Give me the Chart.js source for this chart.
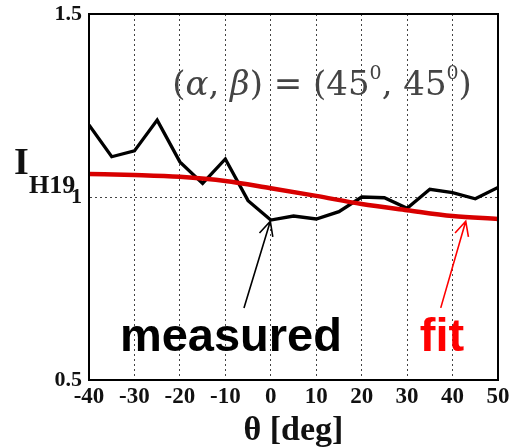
<!DOCTYPE html>
<html>
<head>
<meta charset="utf-8">
<script src="https://cdn.jsdelivr.net/npm/chart.js@4"></script>
<style>
  html, body { margin: 0; padding: 0; background: #fff; }
  #wrap { width: 510px; height: 448px; }
</style>
</head>
<body>
<div id="wrap"><canvas id="c" width="510" height="448"></canvas></div>
<script>
// measured intensity, every 5 deg
const thetaMeasured = [-40, -35, -30, -25, -20, -15, -10, -5, 0, 5, 10, 15, 20, 25, 30, 35, 40, 45, 50];
const iMeasured = [1.197, 1.110, 1.126, 1.210, 1.096, 1.037, 1.104, 0.990, 0.937, 0.948, 0.940, 0.960, 1.000, 0.998, 0.969, 1.021, 1.012, 0.995, 1.026];
// fitted curve
const thetaFit = [-40, -30, -20, -10, 0, 10, 20, 30, 40, 50];
const iFit = [1.063, 1.060, 1.055, 1.044, 1.024, 1.003, 0.981, 0.964, 0.948, 0.940];
const yTicks = [0.5, 1, 1.5];

const SERIF = '"Liberation Serif", "Times New Roman", serif';
const MATH = '"DejaVu Serif", "Liberation Serif", serif';
const SANS = '"Liberation Sans", Arial, sans-serif';

function pts(xs, ys) {
    return xs.map((x, i) => ({x: x, y: ys[i]}));
}

// draws text runs one after the other
function drawRuns(ctx, x, y, runs) {
    runs.forEach((r) => {
        ctx.font = r.font;
        ctx.fillText(r.text, x, y + (r.dy || 0));
        x += ctx.measureText(r.text).width;
    });
}

function arrow(ctx, x0, y0, x1, y1, color) {
    let ang = Math.atan2(y1 - y0, x1 - x0);
    let len = 16;
    ctx.strokeStyle = color;
    ctx.lineWidth = 1.6;
    ctx.beginPath();
    ctx.moveTo(x0, y0);
    ctx.lineTo(x1, y1);
    ctx.moveTo(x1 - len * Math.cos(ang - 0.45), y1 - len * Math.sin(ang - 0.45));
    ctx.lineTo(x1, y1);
    ctx.lineTo(x1 - len * Math.cos(ang + 0.45), y1 - len * Math.sin(ang + 0.45));
    ctx.stroke();
}

//Label overhang must not shrink the plot, the layout padding decides.
function noOverhang(s) {
    s.paddingTop = 0;
    s.paddingBottom = 0;
    s.paddingLeft = 0;
    s.paddingRight = 0;
}

const extras = {
    id: 'extras',
    afterDraw(chart) {
        const ctx = chart.ctx;
        const a = chart.chartArea;
        const xs = chart.scales.x;
        const ys = chart.scales.y;
        ctx.save();

        // box round the plot
        ctx.strokeStyle = '#000';
        ctx.lineWidth = 2;
        ctx.strokeRect(a.left, a.top, a.right - a.left, a.bottom - a.top);

        // parameter label
        ctx.fillStyle = '#444';
        ctx.textBaseline = 'alphabetic';
        const reg = '34px ' + MATH;
        const ita = 'italic 34px ' + MATH;
        const sup = '19px ' + MATH;
        drawRuns(ctx, xs.getPixelForValue(-21.7), ys.getPixelForValue(1.279), [
            {text: '(', font: reg},
            {text: 'α', font: ita},
            {text: ', ', font: reg},
            {text: 'β', font: ita},
            {text: ') = (45', font: reg},
            {text: '0', font: sup, dy: -16},
            {text: ', 45', font: reg},
            {text: '0', font: sup, dy: -16},
            {text: ')', font: reg}
        ]);

        // y axis label I_H19
        ctx.fillStyle = '#111';
        ctx.font = 'bold 38px ' + SERIF;
        ctx.fillText('I', 14, 174);
        ctx.font = 'bold 26px ' + SERIF;
        ctx.fillText('H19', 29, 193);

        // arrows
        arrow(ctx, xs.getPixelForValue(-5.9), ys.getPixelForValue(0.697),
            xs.getPixelForValue(-0.1), ys.getPixelForValue(0.934), '#000');
        arrow(ctx, xs.getPixelForValue(37.4), ys.getPixelForValue(0.697),
            xs.getPixelForValue(42.9), ys.getPixelForValue(0.934), '#ff0000');

        // labels
        ctx.font = 'bold 47px ' + SANS;
        ctx.fillStyle = '#000';
        ctx.fillText('measured', xs.getPixelForValue(-33.2), ys.getPixelForValue(0.58));
        ctx.fillStyle = '#ff0000';
        ctx.fillText('fit', xs.getPixelForValue(32.8), ys.getPixelForValue(0.58));
        ctx.restore();
    }
};

new Chart(document.getElementById('c'), {
    type: 'line',
    data: {
        datasets: [
            {
                label: 'fit',
                data: pts(thetaFit, iFit),
                borderColor: '#d80000',
                borderWidth: 4.5,
                pointRadius: 0,
                cubicInterpolationMode: 'monotone'
            },
            {
                label: 'measured',
                data: pts(thetaMeasured, iMeasured),
                borderColor: '#000',
                borderWidth: 3.3,
                pointRadius: 0,
                tension: 0
            }
        ]
    },
    options: {
        responsive: false,
        animation: false,
        layout: {padding: {left: 0, right: 12, top: 14, bottom: 0}},
        plugins: {legend: {display: false}, tooltip: {enabled: false}},
        scales: {
            x: {
                type: 'linear',
                min: -40,
                max: 50,
                afterFit: (s) => { s.height = 68; noOverhang(s); },
                ticks: {
                    stepSize: 10,
                    padding: 3,
                    color: '#111',
                    font: {family: SERIF, size: 23, weight: 'bold'}
                },
                grid: {
                    drawTicks: false,
                    color: (c) => (c.tick && (c.tick.value === -40 || c.tick.value === 50)) ? 'transparent' : '#444',
                    lineWidth: 1
                },
                border: {display: true, color: '#000', width: 2, dash: [2, 3]},
                title: {
                    display: true,
                    text: 'θ [deg]',
                    color: '#111',
                    font: {family: SERIF, size: 34, weight: 'bold', lineHeight: 1},
                    padding: {top: 0, bottom: 0}
                }
            },
            y: {
                min: 0.5,
                max: 1.5,
                afterFit: (s) => { s.width = 89; noOverhang(s); },
                afterBuildTicks: (s) => { s.ticks = yTicks.map((v) => ({value: v})); },
                ticks: {
                    padding: 7,
                    color: '#111',
                    font: {family: SERIF, size: 22, weight: 'bold'},
                    callback: (v) => String(v)
                },
                grid: {
                    drawTicks: false,
                    color: (c) => (c.tick && c.tick.value === 1) ? '#444' : 'transparent',
                    lineWidth: 1
                },
                border: {display: true, color: '#000', width: 2, dash: [2, 3]}
            }
        }
    },
    plugins: [extras]
});
</script>
</body>
</html>
